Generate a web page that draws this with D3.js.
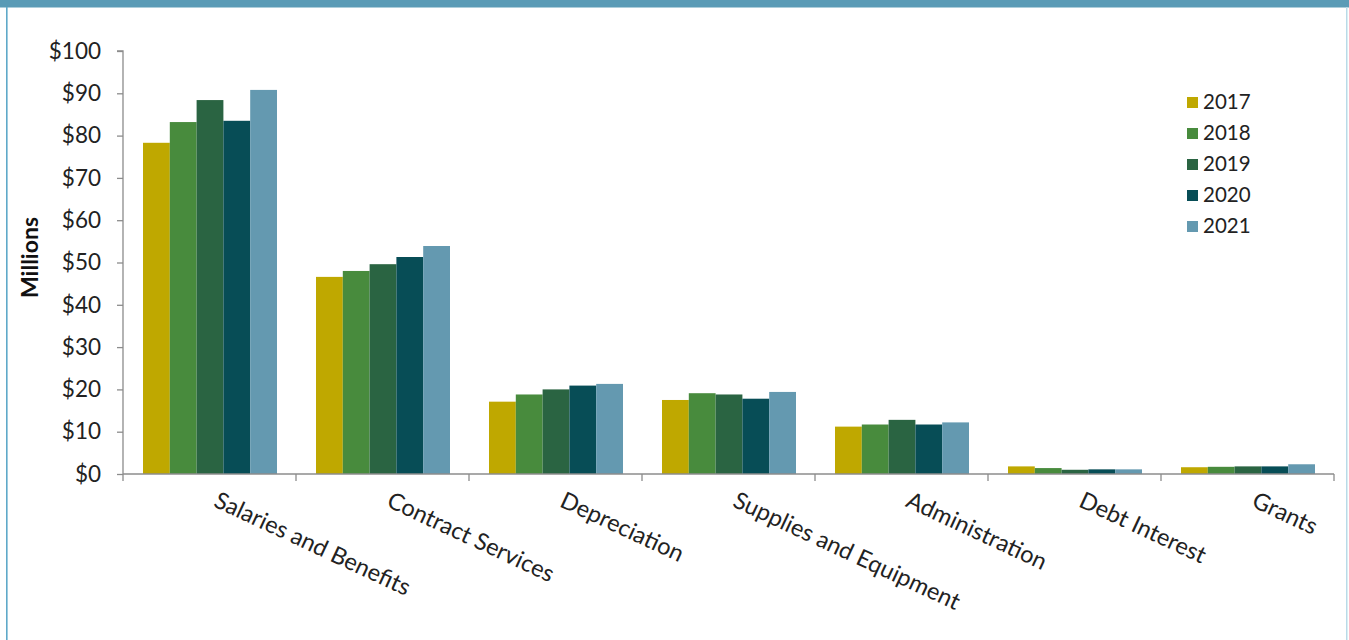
<!DOCTYPE html>
<html>
<head>
<meta charset="utf-8">
<script src="https://cdn.jsdelivr.net/npm/d3@7"></script>
<style>
  html, body { margin: 0; padding: 0; background: #fff; }
  svg { display: block; }
</style>
</head>
<body>
<script>
// Operating expenses by category, in millions of dollars
const categories = ["Salaries and Benefits", "Contract Services", "Depreciation",
  "Supplies and Equipment", "Administration", "Debt Interest", "Grants"];
const years = ["2017", "2018", "2019", "2020", "2021"];
const v2017 = [78.3, 46.6, 17.1, 17.5, 11.2, 1.8, 1.6];
const v2018 = [83.2, 48.0, 18.8, 19.1, 11.7, 1.4, 1.7];
const v2019 = [88.4, 49.6, 20.0, 18.8, 12.8, 1.0, 1.8];
const v2020 = [83.5, 51.3, 20.9, 17.8, 11.7, 1.1, 1.8];
const v2021 = [90.8, 53.9, 21.3, 19.4, 12.2, 1.1, 2.3];
const yTicks = [0, 10, 20, 30, 40, 50, 60, 70, 80, 90, 100];
const colors = ["#bfa800", "#488b3d", "#2a6442", "#074d56", "#6499b0"];

const series = [v2017, v2018, v2019, v2020, v2021];
const W = 1349, H = 640;
const svg = d3.select("body").append("svg").attr("width", W).attr("height", H);

// frame
svg.append("rect").attr("x", 0).attr("y", 0).attr("width", W).attr("height", 7.5).attr("fill", "#5a9bb6");
svg.append("rect").attr("x", 6).attr("y", 7).attr("width", 1.6).attr("height", H).attr("fill", "#5fa9c9");
svg.append("rect").attr("x", 1346).attr("y", 7).attr("width", 1.5).attr("height", H).attr("fill", "#b9dbe8");

const x0 = 123, x1 = 1334, yTop = 51, yBot = 474;
const x = d3.scaleBand().domain(categories).range([x0, x1]).paddingInner(0).paddingOuter(0);
const xi = d3.scaleBand().domain(years).range([20, x.bandwidth() - 19]).padding(0);
const y = d3.scaleLinear().domain([0, 100]).range([yBot, yTop]);

// bars
const groups = svg.append("g").selectAll("g").data(categories).join("g")
  .attr("transform", d => `translate(${x(d)},0)`);
groups.selectAll("rect").data((c, ci) => years.map((yr, si) => ({ yr, v: series[si][ci], si })))
  .join("rect")
  .attr("x", d => xi(d.yr))
  .attr("width", xi.bandwidth())
  .attr("y", d => y(d.v))
  .attr("height", d => yBot - y(d.v))
  .attr("fill", d => colors[d.si]);

// y axis
const yAxis = svg.append("g").attr("transform", `translate(${x0},0)`)
  .call(d3.axisLeft(y).tickValues(yTicks).tickSize(6).tickPadding(16).tickFormat(d => "$" + d));
yAxis.select(".domain").attr("stroke", "#8c8c8c").attr("stroke-width", 1.3).attr("d", `M-6,${yTop}H0V${yBot}`);
yAxis.selectAll(".tick line").attr("stroke", "#8c8c8c").attr("stroke-width", 1.3);
yAxis.selectAll(".tick text").attr("font-family", "Lato, 'Open Sans', sans-serif")
  .attr("font-size", 22.5).attr("fill", "#222");

// x axis with boundary ticks
const xAxis = svg.append("g").attr("transform", `translate(0,${yBot})`);
xAxis.append("line").attr("x1", x0).attr("x2", x1).attr("y1", 0).attr("y2", 0)
  .attr("stroke", "#8c8c8c").attr("stroke-width", 1.3);
const bounds = categories.map(c => x(c)).concat([x1]);
xAxis.selectAll("line.b").data(bounds).join("line").attr("class", "b")
  .attr("x1", d => d).attr("x2", d => d).attr("y1", 0).attr("y2", 7)
  .attr("stroke", "#8c8c8c").attr("stroke-width", 1.3);

// rotated category labels
svg.append("g").selectAll("text").data(categories).join("text")
  .attr("transform", d => `translate(${x(d) + x.bandwidth() / 2 + 3},${yBot + 32}) rotate(25)`)
  .attr("font-family", "Lato, 'Open Sans', sans-serif")
  .attr("font-size", 23.5)
  .attr("fill", "#222")
  .text(d => d);

// y axis title
svg.append("text")
  .attr("transform", `translate(38,${(yTop + yBot) / 2 - 5}) rotate(-90)`)
  .attr("text-anchor", "middle")
  .attr("font-family", "Lato, 'Open Sans', sans-serif")
  .attr("font-weight", "bold")
  .attr("font-size", 23)
  .attr("fill", "#111")
  .text("Millions");

// legend
const lg = svg.append("g").attr("transform", "translate(1187,97)");
const items = lg.selectAll("g").data(years).join("g")
  .attr("transform", (d, i) => `translate(0,${i * 31})`);
items.append("rect").attr("width", 11).attr("height", 11).attr("fill", (d, i) => colors[i]);
items.append("text").attr("x", 16).attr("y", 12)
  .attr("font-family", "Lato, 'Open Sans', sans-serif")
  .attr("font-size", 20.5).attr("fill", "#222").text(d => d);
</script>
</body>
</html>
